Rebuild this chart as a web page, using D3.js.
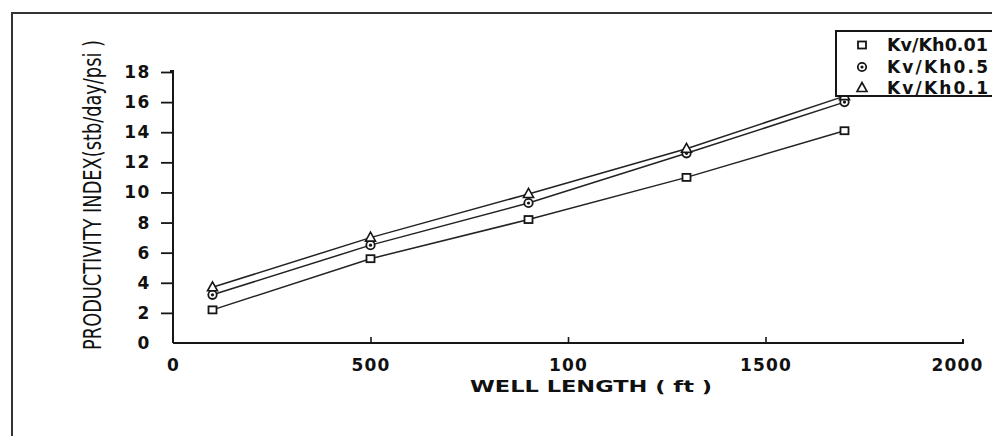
<!DOCTYPE html>
<html>
<head>
<meta charset="utf-8">
<script src="https://cdn.jsdelivr.net/npm/d3@7/dist/d3.min.js"></script>
<style>
  html, body { margin: 0; padding: 0; background: #fff; }
  svg { display: block; }
  text { fill: #111; }
</style>
</head>
<body>
<svg id="chart" width="992" height="436"></svg>
<script>
// Well length (ft) at which productivity index was computed
const wellLength = [100, 500, 900, 1300, 1700];
// Productivity index (stb/day/psi) for each permeability ratio
const piLow  = [2.2, 5.6, 8.2, 11.0, 14.1];   // squares
const piMid  = [3.2, 6.5, 9.3, 12.6, 16.0];   // circles
const piHigh = [3.7, 7.0, 9.9, 12.9, 16.4];   // triangles
const seriesNames = ["Kv/Kh0.01", "Kv/Kh0.5", "Kv/Kh0.1"];
const seriesSymbols = ["square", "circle", "triangle"];
// Axis ticks
const xTickValues = [0, 500, 1000, 1500, 2000];
const xTickLabels = ["0", "500", "100", "1500", "2000"];
const yTickValues = [0, 2, 4, 6, 8, 10, 12, 14, 16, 18];

const svg = d3.select("#chart");
const ink = "#161616";

const x = d3.scaleLinear().domain([0, 2000]).range([173, 963]);
const y = d3.scaleLinear().domain([0, 18]).range([343, 72]);

// Page frame
svg.append("path")
  .attr("d", "M12,436 L12,13 L992,13")
  .attr("fill", "none").attr("stroke", "#333").attr("stroke-width", 2);

// X axis: ticks point inward (upward)
const xAxis = d3.axisBottom(x)
  .tickValues(xTickValues)
  .tickSize(-6)
  .tickPadding(16)
  .tickFormat((d, i) => xTickLabels[i]);
const gx = svg.append("g").attr("transform", `translate(0,${y(0)})`).call(xAxis);
gx.select(".domain").attr("d", `M${x(0)},0H${x(2000)}V-4`).attr("stroke", ink).attr("stroke-width", 2).attr("fill", "none");
gx.selectAll(".tick line").attr("stroke", ink).attr("stroke-width", 1.6)
  .style("display", d => (d === 0 || d === 2000) ? "none" : null);
gx.selectAll(".tick text")
  .attr("font-family", "DejaVu Sans").attr("font-weight", "bold")
  .attr("font-size", 17).attr("letter-spacing", 1.2).attr("fill", ink);
// keep the last label inside the page
gx.selectAll(".tick text").filter(d => d === 2000).attr("dx", -6);

// Y axis: ticks point outward (left)
const yAxis = d3.axisLeft(y)
  .tickValues(yTickValues)
  .tickSize(12)
  .tickPadding(10)
  .tickFormat(d3.format("d"));
const gy = svg.append("g").attr("transform", `translate(${x(0)},0)`).call(yAxis);
gy.select(".domain").attr("d", `M0,${y(0)}V${y(18) - 1}H-3`).attr("stroke", ink).attr("stroke-width", 2).attr("fill", "none");
gy.selectAll(".tick line").attr("stroke", ink).attr("stroke-width", 1.8)
  .style("display", d => d === 0 ? "none" : null);
gy.selectAll(".tick text")
  .attr("font-family", "DejaVu Sans").attr("font-weight", "bold")
  .attr("font-size", 17).attr("letter-spacing", 1.6).attr("fill", ink);

// Axis titles
svg.append("text")
  .attr("x", 591).attr("y", 392)
  .attr("text-anchor", "middle")
  .attr("font-family", "DejaVu Sans").attr("font-weight", "bold")
  .attr("font-size", 16)
  .attr("textLength", 242).attr("lengthAdjust", "spacingAndGlyphs")
  .text("WELL LENGTH ( ft )");

// Tall, narrow vertical title: squeeze horizontally to its target length
const yTitle = svg.append("text")
  .attr("text-anchor", "middle")
  .attr("font-family", "DejaVu Sans")
  .attr("font-size", 24)
  .text("PRODUCTIVITY INDEX(stb/day/psi )");
const natural = yTitle.node().getComputedTextLength();
yTitle.attr("transform", `translate(101,195) rotate(-90) scale(${310 / natural},1)`);

// Series
const series = [piLow, piMid, piHigh].map((vals, i) => ({
  name: seriesNames[i],
  symbol: seriesSymbols[i],
  points: vals.map((v, j) => ({ x: wellLength[j], y: v }))
}));

const line = d3.line().x(d => x(d.x)).y(d => y(d.y));

svg.append("g").selectAll("path")
  .data(series).join("path")
  .attr("d", d => line(d.points))
  .attr("fill", "none").attr("stroke", "#222").attr("stroke-width", 1.5);

function drawMarker(g, symbol) {
  if (symbol === "square") {
    g.append("rect").attr("x", -4).attr("y", -3.5).attr("width", 8).attr("height", 7)
      .attr("fill", "#fff").attr("stroke", ink).attr("stroke-width", 1.8);
  } else if (symbol === "circle") {
    g.append("circle").attr("r", 4.2).attr("fill", "#fff").attr("stroke", ink).attr("stroke-width", 1.8);
    g.append("circle").attr("r", 1.6).attr("fill", ink);
  } else {
    g.append("path").attr("d", "M0,-5.5L5,3.5L-5,3.5Z")
      .attr("fill", "#fff").attr("stroke", ink).attr("stroke-width", 1.6);
  }
}

series.forEach(s => {
  s.points.forEach(p => {
    const g = svg.append("g").attr("transform", `translate(${x(p.x)},${y(p.y)})`);
    drawMarker(g, s.symbol);
  });
});

// Legend (its box runs past the right edge of the page)
const legend = svg.append("g");
legend.append("rect")
  .attr("x", 836).attr("y", 31).attr("width", 200).attr("height", 65)
  .attr("fill", "#fff").attr("stroke", ink).attr("stroke-width", 2);
const rowY = [45, 67, 88];
series.forEach((s, i) => {
  const g = legend.append("g").attr("transform", `translate(862,${rowY[i]})`);
  drawMarker(g, s.symbol);
  const t = legend.append("text")
    .attr("x", 887).attr("y", rowY[i]).attr("dy", "0.36em")
    .attr("font-family", "DejaVu Sans").attr("font-weight", "bold")
    .attr("font-size", 17)
    .text(s.name);
  // stretch short names, squeeze long ones, so every name ends at the page edge
  t.attr("textLength", 101).attr("lengthAdjust", s.name.length > 8 ? "spacingAndGlyphs" : "spacing");
});
</script>
</body>
</html>
